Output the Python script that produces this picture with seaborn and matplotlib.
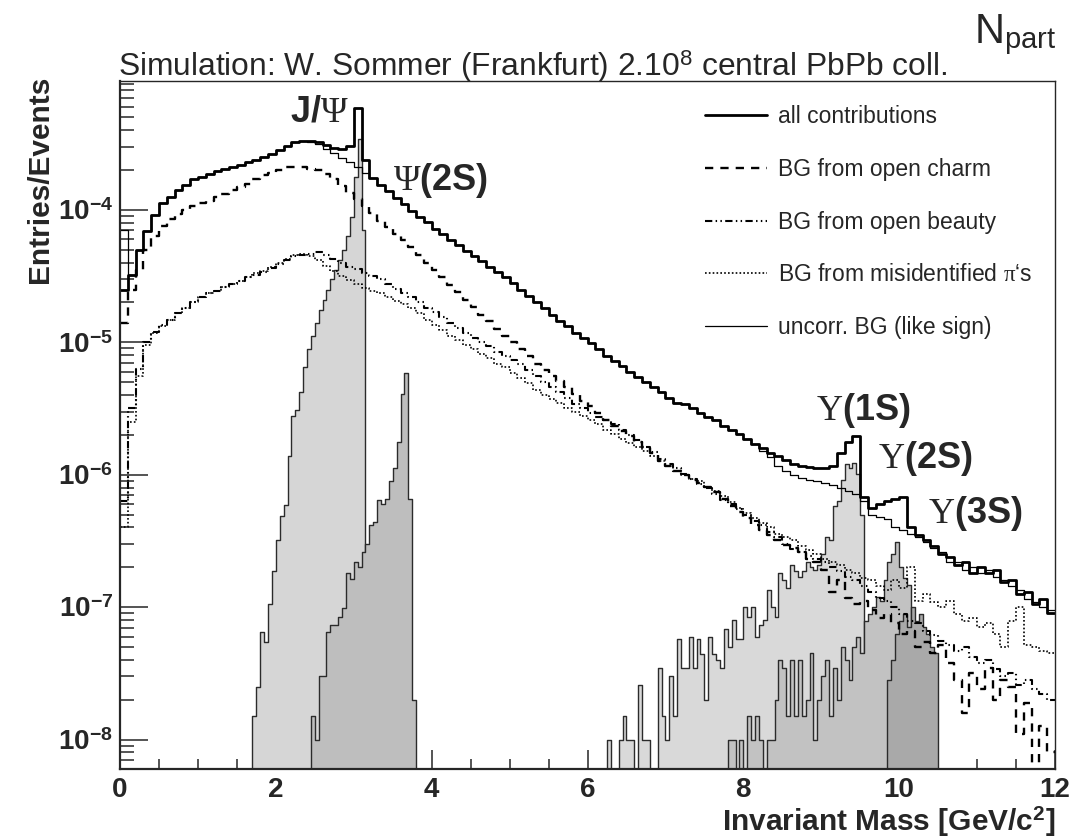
import numpy as np
import matplotlib
matplotlib.use("Agg")
import matplotlib.pyplot as plt
from matplotlib.lines import Line2D
from matplotlib.ticker import LogLocator, NullFormatter, MultipleLocator
import seaborn as sns

# ---- binning (GeV/c^2) ----
bg_lo, bg_w = 0.0, 0.1     # background / total curves
sig_w = 0.05               # resonance signals

# ---- background curves, 0.1 GeV bins from 0 to 12 ----
total = [
    2.5e-5, 3.2e-5, 5.0e-5, 6.9e-5, 9.1e-5, 1.12e-4, 1.26e-4, 1.41e-4, 1.55e-4, 1.70e-4,
    1.78e-4, 1.86e-4, 1.95e-4, 2.04e-4, 2.09e-4, 2.19e-4, 2.29e-4, 2.40e-4, 2.51e-4, 2.63e-4,
    2.82e-4, 3.02e-4, 3.24e-4, 3.31e-4, 3.31e-4, 3.24e-4, 3.09e-4, 2.95e-4, 2.88e-4, 3.02e-4,
    5.9e-4, 2.40e-4, 1.74e-4, 1.55e-4, 1.38e-4, 1.23e-4, 1.10e-4, 9.8e-5, 8.9e-5, 8.1e-5,
    7.2e-5, 6.6e-5, 5.9e-5, 5.4e-5, 4.9e-5, 4.5e-5, 4.1e-5, 3.7e-5, 3.4e-5, 3.1e-5,
    2.8e-5, 2.5e-5, 2.24e-5, 2.0e-5, 1.82e-5, 1.62e-5, 1.45e-5, 1.32e-5, 1.17e-5, 1.07e-5,
    9.8e-6, 8.9e-6, 7.9e-6, 7.2e-6, 6.6e-6, 6.0e-6, 5.5e-6, 5.0e-6, 4.6e-6, 4.2e-6,
    3.8e-6, 3.5e-6, 3.4e-6, 3.2e-6, 2.95e-6, 2.75e-6, 2.57e-6, 2.34e-6, 2.19e-6, 2.04e-6,
    1.86e-6, 1.70e-6, 1.58e-6, 1.45e-6, 1.38e-6, 1.29e-6, 1.20e-6, 1.17e-6, 1.15e-6, 1.12e-6,
    1.12e-6, 1.17e-6, 1.45e-6, 1.78e-6, 1.95e-6, 6.8e-7, 5.6e-7, 6.0e-7, 6.3e-7, 6.6e-7,
    6.8e-7, 4.0e-7, 3.5e-7, 3.2e-7, 2.9e-7, 2.5e-7, 2.4e-7, 2.1e-7, 2.2e-7, 1.8e-7,
    2.0e-7, 1.8e-7, 1.9e-7, 1.55e-7, 1.6e-7, 1.25e-7, 1.3e-7, 1.05e-7, 1.15e-7, 9.0e-8,
]
like_sign = [
    7.0e-5, 3.2e-5, 5.0e-5, 6.9e-5, 9.1e-5, 1.12e-4, 1.26e-4, 1.41e-4, 1.55e-4, 1.70e-4,
    1.78e-4, 1.86e-4, 1.95e-4, 2.04e-4, 2.09e-4, 2.19e-4, 2.29e-4, 2.40e-4, 2.51e-4, 2.63e-4,
    2.82e-4, 3.02e-4, 3.24e-4, 3.31e-4, 3.24e-4, 3.16e-4, 2.88e-4, 2.69e-4, 2.45e-4, 2.29e-4,
    2.09e-4, 1.91e-4, 1.74e-4, 1.55e-4, 1.38e-4, 1.23e-4, 1.10e-4, 9.8e-5, 8.9e-5, 8.1e-5,
    7.2e-5, 6.6e-5, 5.9e-5, 5.4e-5, 4.9e-5, 4.5e-5, 4.1e-5, 3.7e-5, 3.4e-5, 3.1e-5,
    2.8e-5, 2.5e-5, 2.24e-5, 2.0e-5, 1.82e-5, 1.62e-5, 1.45e-5, 1.32e-5, 1.17e-5, 1.07e-5,
    9.8e-6, 8.9e-6, 7.9e-6, 7.2e-6, 6.6e-6, 6.0e-6, 5.5e-6, 5.0e-6, 4.6e-6, 4.2e-6,
    3.8e-6, 3.5e-6, 3.4e-6, 3.2e-6, 2.95e-6, 2.75e-6, 2.57e-6, 2.34e-6, 2.19e-6, 2.04e-6,
    1.86e-6, 1.70e-6, 1.51e-6, 1.35e-6, 1.17e-6, 1.07e-6, 1.0e-6, 9.5e-7, 9.1e-7, 8.9e-7,
    8.7e-7, 8.3e-7, 7.9e-7, 7.6e-7, 7.1e-7, 6.3e-7, 5.0e-7, 4.8e-7, 4.6e-7, 4.0e-7,
    3.8e-7, 3.6e-7, 3.4e-7, 3.1e-7, 2.8e-7, 2.6e-7, 2.2e-7, 2.2e-7, 1.9e-7, 2.0e-7,
    1.8e-7, 1.9e-7, 1.7e-7, 1.6e-7, 1.45e-7, 1.35e-7, 1.15e-7, 1.1e-7, 1.0e-7, 9.5e-8,
]
open_charm = [
    1.41e-5, 2.5e-5, 3.5e-5, 5.0e-5, 6.3e-5, 7.6e-5, 8.5e-5, 9.3e-5, 1.0e-4, 1.07e-4,
    1.12e-4, 1.17e-4, 1.26e-4, 1.32e-4, 1.41e-4, 1.48e-4, 1.58e-4, 1.70e-4, 1.82e-4, 1.91e-4,
    2.0e-4, 2.09e-4, 2.09e-4, 2.09e-4, 2.04e-4, 2.0e-4, 1.86e-4, 1.70e-4, 1.51e-4, 1.35e-4,
    1.20e-4, 1.07e-4, 9.5e-5, 8.3e-5, 7.4e-5, 6.6e-5, 5.9e-5, 5.2e-5, 4.6e-5, 4.0e-5,
    3.5e-5, 3.1e-5, 2.7e-5, 2.4e-5, 2.1e-5, 1.86e-5, 1.62e-5, 1.45e-5, 1.26e-5, 1.12e-5,
    1.0e-5, 8.9e-6, 7.9e-6, 6.9e-6, 6.2e-6, 5.6e-6, 5.1e-6, 4.6e-6, 4.1e-6, 3.6e-6,
    3.3e-6, 2.95e-6, 2.6e-6, 2.34e-6, 2.14e-6, 1.95e-6, 1.78e-6, 1.62e-6, 1.45e-6, 1.26e-6,
    1.17e-6, 1.07e-6, 1.0e-6, 9.1e-7, 8.7e-7, 8.1e-7, 7.4e-7, 6.6e-7, 5.8e-7, 5.2e-7,
    4.7e-7, 4.2e-7, 3.8e-7, 3.5e-7, 3.2e-7, 2.95e-7, 2.8e-7, 2.6e-7, 2.3e-7, 2.2e-7,
    1.9e-7, 1.3e-7, 1.6e-7, 1.17e-7, 1.05e-7, 1.12e-7, 9.5e-8, 8.3e-8, 8.9e-8, 7.6e-8,
    6.3e-8, 6.6e-8, 5.0e-8, 5.5e-8, 4.5e-8, 5.2e-8, 3.8e-8, 2.8e-8, 1.6e-8, 3.2e-8,
    2.4e-8, 3.5e-8, 2.0e-8, 2.8e-8, 2.5e-8, 1.1e-8, 1.9e-8, 0.0, 1.26e-8, 8.0e-9,
]
open_beauty = [
    6.3e-7, 3.2e-6, 6.3e-6, 1.0e-5, 1.20e-5, 1.35e-5, 1.48e-5, 1.66e-5, 1.82e-5, 2.0e-5,
    2.19e-5, 2.34e-5, 2.45e-5, 2.63e-5, 2.75e-5, 2.88e-5, 3.09e-5, 3.24e-5, 3.39e-5, 3.63e-5,
    3.89e-5, 4.17e-5, 4.47e-5, 4.57e-5, 4.68e-5, 4.79e-5, 4.57e-5, 4.27e-5, 3.98e-5, 3.72e-5,
    3.55e-5, 3.31e-5, 3.16e-5, 3.02e-5, 2.75e-5, 2.51e-5, 2.34e-5, 2.19e-5, 2.0e-5, 1.82e-5,
    1.70e-5, 1.55e-5, 1.41e-5, 1.29e-5, 1.17e-5, 1.07e-5, 1.0e-5, 9.3e-6, 8.5e-6, 7.9e-6,
    7.4e-6, 6.8e-6, 6.2e-6, 5.6e-6, 5.0e-6, 4.6e-6, 4.2e-6, 3.8e-6, 3.4e-6, 3.2e-6,
    2.95e-6, 2.75e-6, 2.57e-6, 2.4e-6, 2.19e-6, 2.0e-6, 1.82e-6, 1.62e-6, 1.48e-6, 1.32e-6,
    1.20e-6, 1.12e-6, 1.02e-6, 9.3e-7, 8.5e-7, 7.9e-7, 7.1e-7, 6.5e-7, 6.0e-7, 5.5e-7,
    5.0e-7, 4.5e-7, 4.2e-7, 3.7e-7, 3.4e-7, 3.0e-7, 2.75e-7, 2.6e-7, 2.45e-7, 2.3e-7,
    2.2e-7, 2.0e-7, 1.86e-7, 1.7e-7, 1.6e-7, 1.45e-7, 1.3e-7, 1.17e-7, 1.12e-7, 1.0e-7,
    8.9e-8, 7.9e-8, 7.6e-8, 6.6e-8, 6.2e-8, 5.6e-8, 5.2e-8, 4.7e-8, 5.0e-8, 4.2e-8,
    3.8e-8, 4.0e-8, 3.4e-8, 3.0e-8, 3.2e-8, 2.6e-8, 2.8e-8, 2.4e-8, 2.2e-8, 2.0e-8,
]
misid_pions = [
    4.0e-7, 2.5e-6, 5.6e-6, 9.5e-6, 1.17e-5, 1.32e-5, 1.48e-5, 1.66e-5, 1.82e-5, 2.0e-5,
    2.19e-5, 2.34e-5, 2.45e-5, 2.63e-5, 2.75e-5, 2.88e-5, 3.09e-5, 3.31e-5, 3.47e-5, 3.72e-5,
    3.98e-5, 4.27e-5, 4.57e-5, 4.68e-5, 4.47e-5, 4.17e-5, 3.80e-5, 3.47e-5, 3.16e-5, 2.95e-5,
    2.75e-5, 2.57e-5, 2.45e-5, 2.34e-5, 2.19e-5, 2.04e-5, 1.95e-5, 1.82e-5, 1.66e-5, 1.48e-5,
    1.35e-5, 1.23e-5, 1.12e-5, 1.05e-5, 9.5e-6, 8.9e-6, 8.1e-6, 7.6e-6, 6.9e-6, 6.5e-6,
    5.9e-6, 5.4e-6, 4.9e-6, 4.4e-6, 4.0e-6, 3.7e-6, 3.5e-6, 3.2e-6, 3.0e-6, 2.8e-6,
    2.57e-6, 2.4e-6, 2.19e-6, 2.04e-6, 1.86e-6, 1.74e-6, 1.62e-6, 1.51e-6, 1.38e-6, 1.26e-6,
    1.17e-6, 1.07e-6, 1.0e-6, 9.3e-7, 8.9e-7, 8.1e-7, 7.6e-7, 6.9e-7, 6.2e-7, 5.6e-7,
    5.1e-7, 4.7e-7, 4.3e-7, 4.0e-7, 3.6e-7, 3.4e-7, 3.2e-7, 2.9e-7, 2.7e-7, 2.5e-7,
    2.3e-7, 2.2e-7, 2.1e-7, 1.9e-7, 1.8e-7, 1.66e-7, 1.6e-7, 1.45e-7, 1.35e-7, 1.6e-7,
    1.4e-7, 2.0e-7, 1.12e-7, 1.26e-7, 1.1e-7, 1.0e-7, 1.12e-7, 8.9e-8, 7.9e-8, 8.3e-8,
    7.1e-8, 7.6e-8, 6.3e-8, 5.0e-8, 7.9e-8, 1.0e-7, 5.2e-8, 5.0e-8, 4.7e-8, 4.5e-8,
]

# ---- resonance signals, 0.05 GeV bins ----
jpsi_lo = 1.70
jpsi = [
    1.5e-8, 2.5e-8, 6.5e-8, 5.5e-8, 1.05e-7, 1.86e-7, 3.2e-7, 4.9e-7, 5.9e-7, 1.38e-6,
    2.8e-6, 3.1e-6, 4.2e-6, 6.5e-6, 8.9e-6, 1.12e-5, 1.41e-5, 1.74e-5, 2.1e-5, 2.5e-5,
    3.0e-5, 3.5e-5, 4.2e-5, 5.0e-5, 6.3e-5, 8.9e-5, 1.78e-4, 3.4e-4, 7.1e-5,
]
psi2s_lo = 2.45
psi2s = [
    1.5e-8, 1.0e-8, 3.0e-8, 3.0e-8, 6.5e-8, 7.4e-8, 7.4e-8, 8.5e-8, 9.8e-8, 1.82e-7,
    1.62e-7, 2.2e-7, 2.0e-7, 2.6e-7, 3.0e-7, 4.2e-7, 4.4e-7, 6.5e-7, 6.0e-7, 6.6e-7,
    8.9e-7, 1.12e-6, 1.78e-6, 4.1e-6, 5.9e-6, 6.6e-7, 2.0e-8,
]
ups1s_lo = 6.25
ups1s = [
    1.0e-8, 0.0, 0.0, 1.0e-8, 1.5e-8, 1.0e-8, 1.0e-8, 0.0, 2.6e-8, 1.0e-8,
    1.0e-8, 0.0, 0.0, 3.5e-8, 1.5e-8, 1.0e-8, 3.0e-8, 1.5e-8, 5.8e-8, 3.5e-8,
    3.5e-8, 6.0e-8, 3.5e-8, 5.8e-8, 4.4e-8, 2.0e-8, 6.0e-8, 4.4e-8, 4.0e-8, 3.5e-8,
    6.8e-8, 5.0e-8, 8.0e-8, 5.8e-8, 5.8e-8, 1.0e-7, 8.5e-8, 1.0e-7, 6.0e-8, 7.4e-8,
    8.0e-8, 1.35e-7, 1.0e-7, 8.5e-8, 1.82e-7, 1.6e-7, 1.4e-7, 2.1e-7, 1.86e-7, 1.7e-7,
    1.86e-7, 2.2e-7, 2.0e-7, 1.9e-7, 2.1e-7, 2.5e-7, 3.4e-7, 3.2e-7, 5.8e-7, 6.3e-7,
    9.1e-7, 1.2e-6, 1.12e-6, 1.23e-6, 1.02e-6, 5.0e-7,
]
ups2s_lo = 7.80
ups2s = [
    1.0e-8, 1.0e-8, 0.0, 1.0e-8, 0.0, 1.5e-8, 1.0e-8, 1.5e-8, 1.0e-8, 0.0,
    1.0e-8, 1.0e-8, 2.0e-8, 4.0e-8, 3.5e-8, 1.5e-8, 4.0e-8, 1.5e-8, 4.0e-8, 1.5e-8,
    2.0e-8, 4.5e-8, 1.0e-8, 2.0e-8, 3.0e-8, 4.0e-8, 1.5e-8, 3.5e-8, 2.0e-8, 5.0e-8,
    4.0e-8, 2.8e-8, 5.0e-8, 6.0e-8, 4.5e-8, 7.9e-8, 8.9e-8, 1.0e-7, 1.2e-7, 1.12e-7,
    1.6e-7, 2.2e-7, 2.5e-7, 3.1e-7, 2.0e-7, 1.66e-7, 1.48e-7,
]
ups3s_lo = 9.85
ups3s = [
    2.8e-8, 4.0e-8, 6.3e-8, 7.9e-8, 8.9e-8, 7.1e-8, 1.0e-7, 7.9e-8, 8.9e-8, 7.1e-8,
    6.3e-8, 5.0e-8, 4.5e-8,
]

legend_labels = [
    "all contributions",
    "BG from open charm",
    "BG from open beauty",
    "BG from misidentified $\\mathrm{\\pi}$\u2018s",
    "uncorr. BG (like sign)",
]
x_ticks = [0, 2, 4, 6, 8, 10, 12]
y_ticks = [1e-8, 1e-7, 1e-6, 1e-5, 1e-4]
y_ticklabels = [r"10$^{\mathbf{-8}}$", r"10$^{\mathbf{-7}}$", r"10$^{\mathbf{-6}}$",
                r"10$^{\mathbf{-5}}$", r"10$^{\mathbf{-4}}$"]

sns.set_style("ticks")
plt.rcParams["font.family"] = "Liberation Sans"
plt.rcParams["mathtext.fontset"] = "custom"
plt.rcParams["mathtext.rm"] = "Liberation Serif"
plt.rcParams["mathtext.it"] = "Liberation Serif:italic"
plt.rcParams["mathtext.bf"] = "Liberation Sans:bold"
plt.rcParams["mathtext.sf"] = "Liberation Sans"


def draw_hist(ax, lo, width, values, **kw):
    n = len(values)
    edges = [lo + width * i for i in range(n + 1)]
    centers = [lo + width * (i + 0.5) for i in range(n)]
    sns.histplot(x=centers, weights=values, bins=edges, element="step", ax=ax, **kw)


fig = plt.figure(figsize=(10.88, 8.38), dpi=100)
W, H = 1088, 838
ax = fig.add_axes([120 / W, 1 - 769 / H, 935 / W, 688 / H])
ax.set_yscale("log")

# filled signal peaks
fill_kw = dict(fill=True, alpha=1, edgecolor="#2b2b2b", linewidth=1.0)
draw_hist(ax, jpsi_lo, sig_w, jpsi, color="#d6d6d6", **fill_kw)
draw_hist(ax, psi2s_lo, sig_w, psi2s, color="#bebebe", **fill_kw)
draw_hist(ax, ups1s_lo, sig_w, ups1s, color="#d9d9d9", **fill_kw)
draw_hist(ax, ups2s_lo, sig_w, ups2s, color="#c2c2c2", **fill_kw)
draw_hist(ax, ups3s_lo, sig_w, ups3s, color="#a9a9a9", **fill_kw)

# background and total lines
styles = {
    "pions": dict(linewidth=1.2, linestyle=(0, (1, 1.3))),
    "beauty": dict(linewidth=1.5, linestyle=(0, (3.5, 1.6, 0.7, 1.6, 0.7, 1.6))),
    "charm": dict(linewidth=1.7, linestyle=(0, (3.5, 3.0))),
    "like": dict(linewidth=0.9, linestyle="-"),
    "total": dict(linewidth=2.0, linestyle="-"),
}
draw_hist(ax, bg_lo, bg_w, misid_pions, fill=False, color="black", **styles["pions"])
draw_hist(ax, bg_lo, bg_w, open_beauty, fill=False, color="black", **styles["beauty"])
draw_hist(ax, bg_lo, bg_w, open_charm, fill=False, color="black", **styles["charm"])
draw_hist(ax, bg_lo, bg_w, like_sign, fill=False, color="black", **styles["like"])
draw_hist(ax, bg_lo, bg_w, total, fill=False, color="black", **styles["total"])

ax.set_xlim(0, 12)
ax.set_ylim(6.0e-9, 9.4e-4)
ax.set_xlabel("")
ax.set_ylabel("")

ax.set_xticks(x_ticks)
ax.set_xticklabels([str(t) for t in x_ticks], fontsize=20, fontweight="bold")
ax.xaxis.set_minor_locator(MultipleLocator(0.5))
ax.set_yticks(y_ticks)
ax.set_yticklabels(y_ticklabels, fontsize=20, fontweight="bold")
ax.yaxis.set_minor_locator(LogLocator(base=10, subs=np.arange(2, 10)))
ax.yaxis.set_minor_formatter(NullFormatter())
ax.tick_params(which="both", direction="in", top=False, right=False, width=1.1)
ax.tick_params(axis="x", which="major", length=14, pad=6)
ax.tick_params(axis="x", which="minor", length=7)
ax.tick_params(axis="y", which="major", length=20, pad=5)
ax.tick_params(axis="y", which="minor", length=10)
for side in ["left", "bottom"]:
    ax.spines[side].set_linewidth(1.6)
for side in ["top", "right"]:
    ax.spines[side].set_linewidth(1.0)

# legend
handles = [
    Line2D([], [], color="black", **styles["total"]),
    Line2D([], [], color="black", **styles["charm"]),
    Line2D([], [], color="black", **styles["beauty"]),
    Line2D([], [], color="black", **styles["pions"]),
    Line2D([], [], color="black", **styles["like"]),
]
ax.legend(handles, legend_labels, loc="upper left", bbox_to_anchor=(0.6257, 0.965),
          frameon=False, fontsize=16.5, handlelength=2.7, handletextpad=0.5,
          labelspacing=1.3, borderpad=0, borderaxespad=0)

# texts
fig.text(118 / W, 1 - 76 / H,
         "Simulation: W. Sommer (Frankfurt) 2.10$^{\\mathsf{8}}$ central PbPb coll.",
         fontsize=22.9, ha="left", va="baseline")
fig.text(974 / W, 1 - 43 / H, "N$_{\\mathsf{part}}$", fontsize=30, ha="left", va="baseline")
fig.text(40 / W, 1 - 76 / H, "Entries/Events", rotation=90, ha="center", va="top",
         fontsize=21.5, fontweight="bold")
fig.text(1055 / W, 1 - 831 / H, "Invariant Mass [GeV/c$^{\\mathbf{2}}$]", ha="right",
         va="baseline", fontsize=21.5, fontweight="bold")

peak_labels = [
    ("J/$\\mathrm{\\Psi}$", 290, 122),
    ("$\\mathrm{\\Psi}$(2S)", 393, 190),
    ("$\\mathrm{\\Upsilon}$(1S)", 816, 420),
    ("$\\mathrm{\\Upsilon}$(2S)", 878, 468),
    ("$\\mathrm{\\Upsilon}$(3S)", 928, 523),
]
for txt, px, py in peak_labels:
    fig.text(px / W, 1 - py / H, txt, fontsize=26, fontweight="bold", ha="left", va="baseline")

fig.savefig("out.png", dpi=100)
